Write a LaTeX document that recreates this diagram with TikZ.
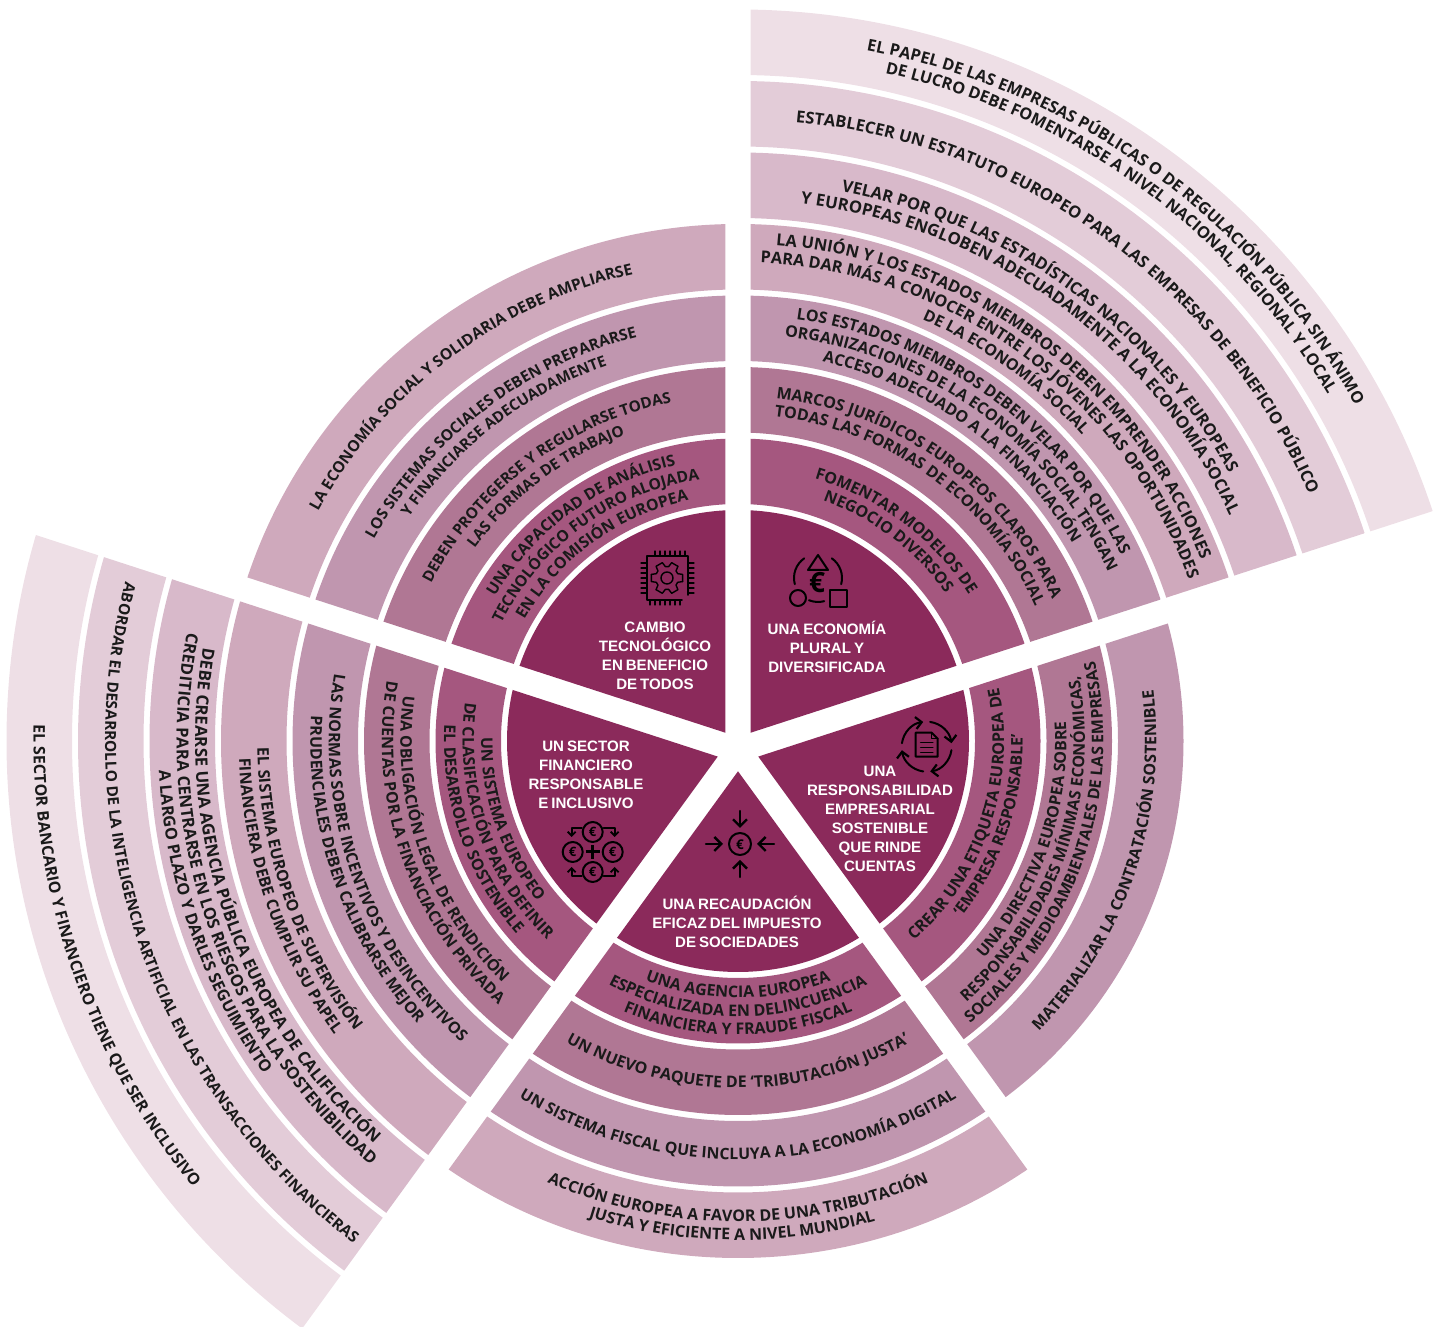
\documentclass[tikz,border=0pt]{standalone}
\usepackage{fontspec}
\setmainfont[WordSpace=0.7]{Liberation Sans}
\newfontfamily\ringfamily{Open Sans}
\newfontfamily\glyphfamily{Open Sans}
\usetikzlibrary{calc,decorations.text,arrows.meta}
\definecolor{discc}{HTML}{8B2A5B}
\definecolor{ring1}{HTML}{A5577F}
\definecolor{ring2}{HTML}{B07794}
\definecolor{ring3}{HTML}{C096AF}
\definecolor{ring4}{HTML}{CFA9BC}
\definecolor{ring5}{HTML}{D8B9CA}
\definecolor{ring6}{HTML}{E3CCD8}
\definecolor{ring7}{HTML}{EEDFE6}
\definecolor{inkc}{HTML}{1A1A1A}
\newcommand\sectorrings[2]{%
  \begin{scope}
    \clip ($(0,-9)+(#1:21.3)$) -- ($(0,-9)+(#1:21.3)+(#1+36:1100)$) -- ($(0,-9)+(#1:21.3)+(#1-36:1100)$) -- cycle;
    \fill[discc] (0,0) circle (231pt);
    \foreach \k in {1,...,#2} {
      \pgfmathsetmacro\ro{231+71.5*\k}
      \pgfmathsetmacro\ri{\ro-65.5}
      \fill[ring\k,even odd rule] (0,0) circle (\ro pt) (0,0) circle (\ri pt);
    }
  \end{scope}}
% [#1 font size] #2 ring, #3 line offset, #4 mid angle, #5 text
\newcommand\cwtext[5][16]{%
  \pgfmathsetmacro\rb{231+71.5*#2-32.75+18.5*(#3)-5.7}
  \pgfmathsetmacro\sa{#4+50}
  \pgfmathsetmacro\ea{#4-50}
  \path[decorate,decoration={text along path,text align=center,text={|\ringfamily\bfseries\fontsize{#1}{18}\selectfont\color{inkc}|#5}}]
    (\sa:\rb) arc[start angle=\sa,end angle=\ea,radius=\rb pt];}
\newcommand\ccwtext[5][16]{%
  \pgfmathsetmacro\rb{231+71.5*#2-32.75+18.5*(#3)+5.7}
  \pgfmathsetmacro\sa{#4-50}
  \pgfmathsetmacro\ea{#4+50}
  \path[decorate,decoration={text along path,text align=center,text={|\ringfamily\bfseries\fontsize{#1}{18}\selectfont\color{inkc}|#5}}]
    (\sa:\rb) arc[start angle=\sa,end angle=\ea,radius=\rb pt];}
\tikzset{
  disclabel/.style={text=white,align=center,font=\bfseries\fontsize{15.1}{19}\selectfont,inner sep=0pt},
  iconline/.style={draw=black,line width=2pt,line cap=round,line join=round},
  barb/.style={-{Straight Barb[length=6pt,width=12pt,line width=2.2pt]}}
}
\begin{document}
\begin{tikzpicture}[x=1pt,y=1pt]
\useasboundingbox (0,0) rectangle (1441,1327);
\begin{scope}[shift={(738,586)}]
  \sectorrings{54}{7}
  \sectorrings{126}{4}
  \sectorrings{-18}{3}
  \sectorrings{-90}{4}
  \sectorrings{198}{7}
  % top right
  \cwtext{1}{.5}{53}{FOMENTAR MODELOS DE}
  \cwtext{1}{-.5}{53}{NEGOCIO DIVERSOS}
  \cwtext{2}{.5}{54}{MARCOS JURÍDICOS EUROPEOS CLAROS PARA}
  \cwtext{2}{-.5}{54}{TODAS LAS FORMAS DE ECONOMÍA SOCIAL}
  \cwtext{3}{1}{54}{LOS ESTADOS MIEMBROS DEBEN VELAR POR QUE LAS}
  \cwtext{3}{0}{54}{ORGANIZACIONES DE LA ECONOMÍA SOCIAL TENGAN}
  \cwtext{3}{-1}{54}{ACCESO ADECUADO A LA FINANCIACIÓN}
  \cwtext[16.5]{4}{1}{53.5}{LA UNIÓN Y LOS ESTADOS MIEMBROS DEBEN EMPRENDER ACCIONES}
  \cwtext[16.3]{4}{0}{53.5}{PARA DAR MÁS A CONOCER ENTRE LOS JÓVENES LAS OPORTUNIDADES}
  \cwtext{4}{-1}{54}{DE LA ECONOMÍA SOCIAL}
  \cwtext[16.5]{5}{.5}{54}{VELAR POR QUE LAS ESTADÍSTICAS NACIONALES Y EUROPEAS}
  \cwtext[16.7]{5}{-.5}{54}{Y EUROPEAS ENGLOBEN ADECUADAMENTE A LA ECONOMÍA SOCIAL}
  \cwtext[16.5]{6}{0}{54}{ESTABLECER UN ESTATUTO EUROPEO PARA LAS EMPRESAS DE BENEFICIO PÚBLICO}
  \cwtext[16.3]{7}{.5}{54}{EL PAPEL DE LAS EMPRESAS PÚBLICAS O DE REGULACIÓN PÚBLICA SIN ÁNIMO}
  \cwtext[16.3]{7}{-.5}{54}{DE LUCRO DEBE FOMENTARSE A NIVEL NACIONAL, REGIONAL Y LOCAL}
  % top left
  \cwtext[15.7]{1}{1}{126}{UNA CAPACIDAD DE ANÁLISIS}
  \cwtext[15.6]{1}{0}{126}{TECNOLÓGICO FUTURO ALOJADA}
  \cwtext[15.8]{1}{-1}{126}{EN LA COMISIÓN EUROPEA}
  \cwtext[15.3]{2}{.5}{127}{DEBEN PROTEGERSE Y REGULARSE TODAS}
  \cwtext[15.3]{2}{-.5}{127}{LAS FORMAS DE TRABAJO}
  \cwtext[15.5]{3}{.5}{127.5}{LOS SISTEMAS SOCIALES DEBEN PREPARARSE}
  \cwtext[15.2]{3}{-.5}{127.5}{Y FINANCIARSE ADECUADAMENTE}
  \cwtext[15.6]{4}{0}{127}{LA ECONOMÍA SOCIAL Y SOLIDARIA DEBE AMPLIARSE}
  % right
  \ccwtext[16.2]{1}{-.5}{-18.5}{CREAR UNA ETIQUETA EUROPEA DE}
  \ccwtext{1}{.5}{-18.5}{‘EMPRESA RESPONSABLE’}
  \ccwtext{2}{-1}{-19}{UNA DIRECTIVA EUROPEA SOBRE}
  \ccwtext{2}{0}{-19}{RESPONSABILIDADES MÍNIMAS ECONÓMICAS,}
  \ccwtext{2}{1}{-19}{SOCIALES Y MEDIOAMBIENTALES DE LAS EMPRESAS}
  \ccwtext{3}{0}{-18.5}{MATERIALIZAR LA CONTRATACIÓN SOSTENIBLE}
  % bottom
  \ccwtext{1}{-1}{-90}{UNA AGENCIA EUROPEA}
  \ccwtext{1}{0}{-90}{ESPECIALIZADA EN DELINCUENCIA}
  \ccwtext{1}{1}{-90}{FINANCIERA Y FRAUDE FISCAL}
  \ccwtext{2}{0}{-90}{UN NUEVO PAQUETE DE ‘TRIBUTACIÓN JUSTA’}
  \ccwtext[15.8]{3}{0}{-90}{UN SISTEMA FISCAL QUE INCLUYA A LA ECONOMÍA DIGITAL}
  \ccwtext{4}{-.5}{-90}{ACCIÓN EUROPEA A FAVOR DE UNA TRIBUTACIÓN}
  \ccwtext{4}{.5}{-90.7}{JUSTA Y EFICIENTE A NIVEL MUNDIAL}
  % left
  \ccwtext{1}{-1}{199}{UN SISTEMA EUROPEO}
  \ccwtext{1}{0}{199}{DE CLASIFICACIÓN PARA DEFINIR}
  \ccwtext{1}{1}{199}{EL DESARROLLO SOSTENIBLE}
  \ccwtext{2}{-.5}{199}{UNA OBLIGACIÓN LEGAL DE RENDICIÓN}
  \ccwtext{2}{.5}{199}{DE CUENTAS POR LA FINANCIACIÓN PRIVADA}
  \ccwtext{3}{-.5}{199}{LAS NORMAS SOBRE INCENTIVOS Y DESINCENTIVOS}
  \ccwtext{3}{.5}{199}{PRUDENCIALES DEBEN CALIBRARSE MEJOR}
  \ccwtext{4}{-.5}{199}{EL SISTEMA EUROPEO DE SUPERVISIÓN}
  \ccwtext{4}{.5}{199}{FINANCIERA DEBE CUMPLIR SU PAPEL}
  \ccwtext[16.8]{5}{-1}{199}{DEBE CREARSE UNA AGENCIA PÚBLICA EUROPEA DE CALIFICACIÓN}
  \ccwtext[16.6]{5}{0}{199}{CREDITICIA PARA CENTRARSE EN LOS RIESGOS PARA LA SOSTENIBILIDAD}
  \ccwtext[16.3]{5}{1}{199}{A LARGO PLAZO Y DARLES SEGUIMIENTO}
  \ccwtext[15.4]{6}{0}{199}{ABORDAR EL DESARROLLO DE LA INTELIGENCIA ARTIFICIAL EN LAS TRANSACCIONES FINANCIERAS}
  \ccwtext{7}{0}{199}{EL SECTOR BANCARIO Y FINANCIERO TIENE QUE SER INCLUSIVO}
\end{scope}
% disc labels (px x, 1327-px y)
\node[disclabel] (lblcambio) at (655,671.5) {CAMBIO\\TECNOLÓGICO\\EN BENEFICIO\\DE TODOS};
\node[disclabel] (lbleconomia) at (827,680) {UNA ECONOMÍA\\PLURAL Y\\DIVERSIFICADA};
\node[disclabel] (lblresp) at (880,508) {UNA\\RESPONSABILIDAD\\EMPRESARIAL\\SOSTENIBLE\\QUE RINDE\\CUENTAS};
\node[disclabel] (lblrec) at (737,405) {UNA RECAUDACIÓN\\EFICAZ DEL IMPUESTO\\DE SOCIEDADES};
\node[disclabel] (lblsector) at (586,552) {UN SECTOR\\FINANCIERO\\RESPONSABLE\\E INCLUSIVO};
% chip icon
\begin{scope}[shift={(667,749)}]
  \draw[iconline,line width=1.6pt] (-15,22) -- (-20,22) -- (-20,-22) -- (15,-22) ;
  \draw[iconline,line width=1.6pt] (-15,22) -- (21,22) -- (21,-17);
  \foreach \t in {-15,-10,...,15} {
    \draw[iconline,line width=1.2pt] (\t+3,22) -- (\t+3,27);
    \draw[iconline,line width=1.2pt] (\t-2,-22) -- (\t-2,-27);
    \draw[iconline,line width=1.2pt] (-20,\t) -- (-26,\t);
    \draw[iconline,line width=1.2pt] (21,\t) -- (27,\t);
  }
  \foreach \a in {0,60,...,300} {
    \draw[iconline,line width=1.4pt] (\a-13:16) -- (\a+13:16) -- (\a+22:11.5) -- (\a+38:11.5) -- (\a+47:16);
  }
  \draw[iconline,line width=1.4pt] (0,0) circle (6pt);
\end{scope}
% economy icon
\begin{scope}[shift={(818,749)}]
  \draw[iconline] (0,23) -- (-10,8) -- (10,8) -- cycle;
  \draw[iconline] (-20,-20) circle (8pt);
  \draw[iconline] (12,-12) rectangle (29,-29);
  \draw[iconline] (125:24) arc[start angle=125,end angle=195,radius=24pt];
  \draw[iconline] (55:24) arc[start angle=55,end angle=-15,radius=24pt];
  \draw[iconline] (-112:24) arc[start angle=-112,end angle=-75,radius=24pt];
  \node[inner sep=0pt,font=\glyphfamily\bfseries\fontsize{28}{28}\selectfont] (euroa) at (-1,-5) {€};
\end{scope}
% responsibility icon
\begin{scope}[shift={(926.7,580.3)}]
  \draw[iconline,barb] (172:25) arc[start angle=172,end angle=98,radius=25pt];
  \draw[iconline,barb] (82:25) arc[start angle=82,end angle=8,radius=25pt];
  \draw[iconline,barb] (-8:25) arc[start angle=-8,end angle=-82,radius=25pt];
  \draw[iconline,barb] (-98:25) arc[start angle=-98,end angle=-172,radius=25pt];
  \draw[iconline] (-11,14) -- (5,14) -- (11,8) -- (11,-10) -- (-11,-10) -- cycle;
  \draw[iconline,line width=1.5pt] (5,14) -- (5,8) -- (11,8);
  \foreach \yy in {4,-1,-6} \draw[iconline,line width=1.6pt] (-6,\yy) -- (6,\yy);
\end{scope}
% tax icon
\begin{scope}[shift={(740,483)},barb/.style={-{Straight Barb[length=7pt,width=14pt,line width=2.4pt]}}]
  \draw[iconline] (0,0) circle (11pt);
  \node[inner sep=0pt,font=\glyphfamily\bfseries\fontsize{13.5}{13.5}\selectfont] (eurob) at (0,-0.5) {€};
  \coordinate (tn1) at (0,33); \coordinate (tn2) at (0,16);
  \coordinate (ts1) at (0,-33); \coordinate (ts2) at (0,-16);
  \coordinate (tw1) at (-34,0); \coordinate (tw2) at (-17,0);
  \coordinate (te1) at (34,0); \coordinate (te2) at (17,0);
  \draw[iconline,line width=2.4pt,barb] (tn1) -- (tn2);
  \draw[iconline,line width=2.4pt,barb] (ts1) -- (ts2);
  \draw[iconline,line width=2.4pt,barb] (tw1) -- (tw2);
  \draw[iconline,line width=2.4pt,barb] (te1) -- (te2);
\end{scope}
% finance icon
\begin{scope}[shift={(592.7,475)}]
  \foreach \p in {(0,20),(-20,0),(20,0),(0,-20)} {
    \draw[iconline] \p circle (10pt);
    \node[inner sep=0pt,font=\glyphfamily\bfseries\fontsize{13}{13}\selectfont] at \p {€};
  }
  \draw[iconline,line width=3pt,line cap=butt] (-7,0) -- (7,0) (0,-7) -- (0,7);
  \begin{scope}[barb/.style={-{Straight Barb[length=4pt,width=8pt,line width=1.8pt]}}]
  \draw[iconline,barb] (-11,24) -- (-21,24) -- (-21,15);
  \draw[iconline,barb] (11,24) -- (22,24) -- (22,15);
  \draw[iconline,barb] (-11,-24) -- (-21,-24) -- (-21,-15);
  \draw[iconline,barb] (11,-24) -- (22,-24) -- (22,-15);
  \end{scope}
\end{scope}
\end{tikzpicture}
\end{document}
